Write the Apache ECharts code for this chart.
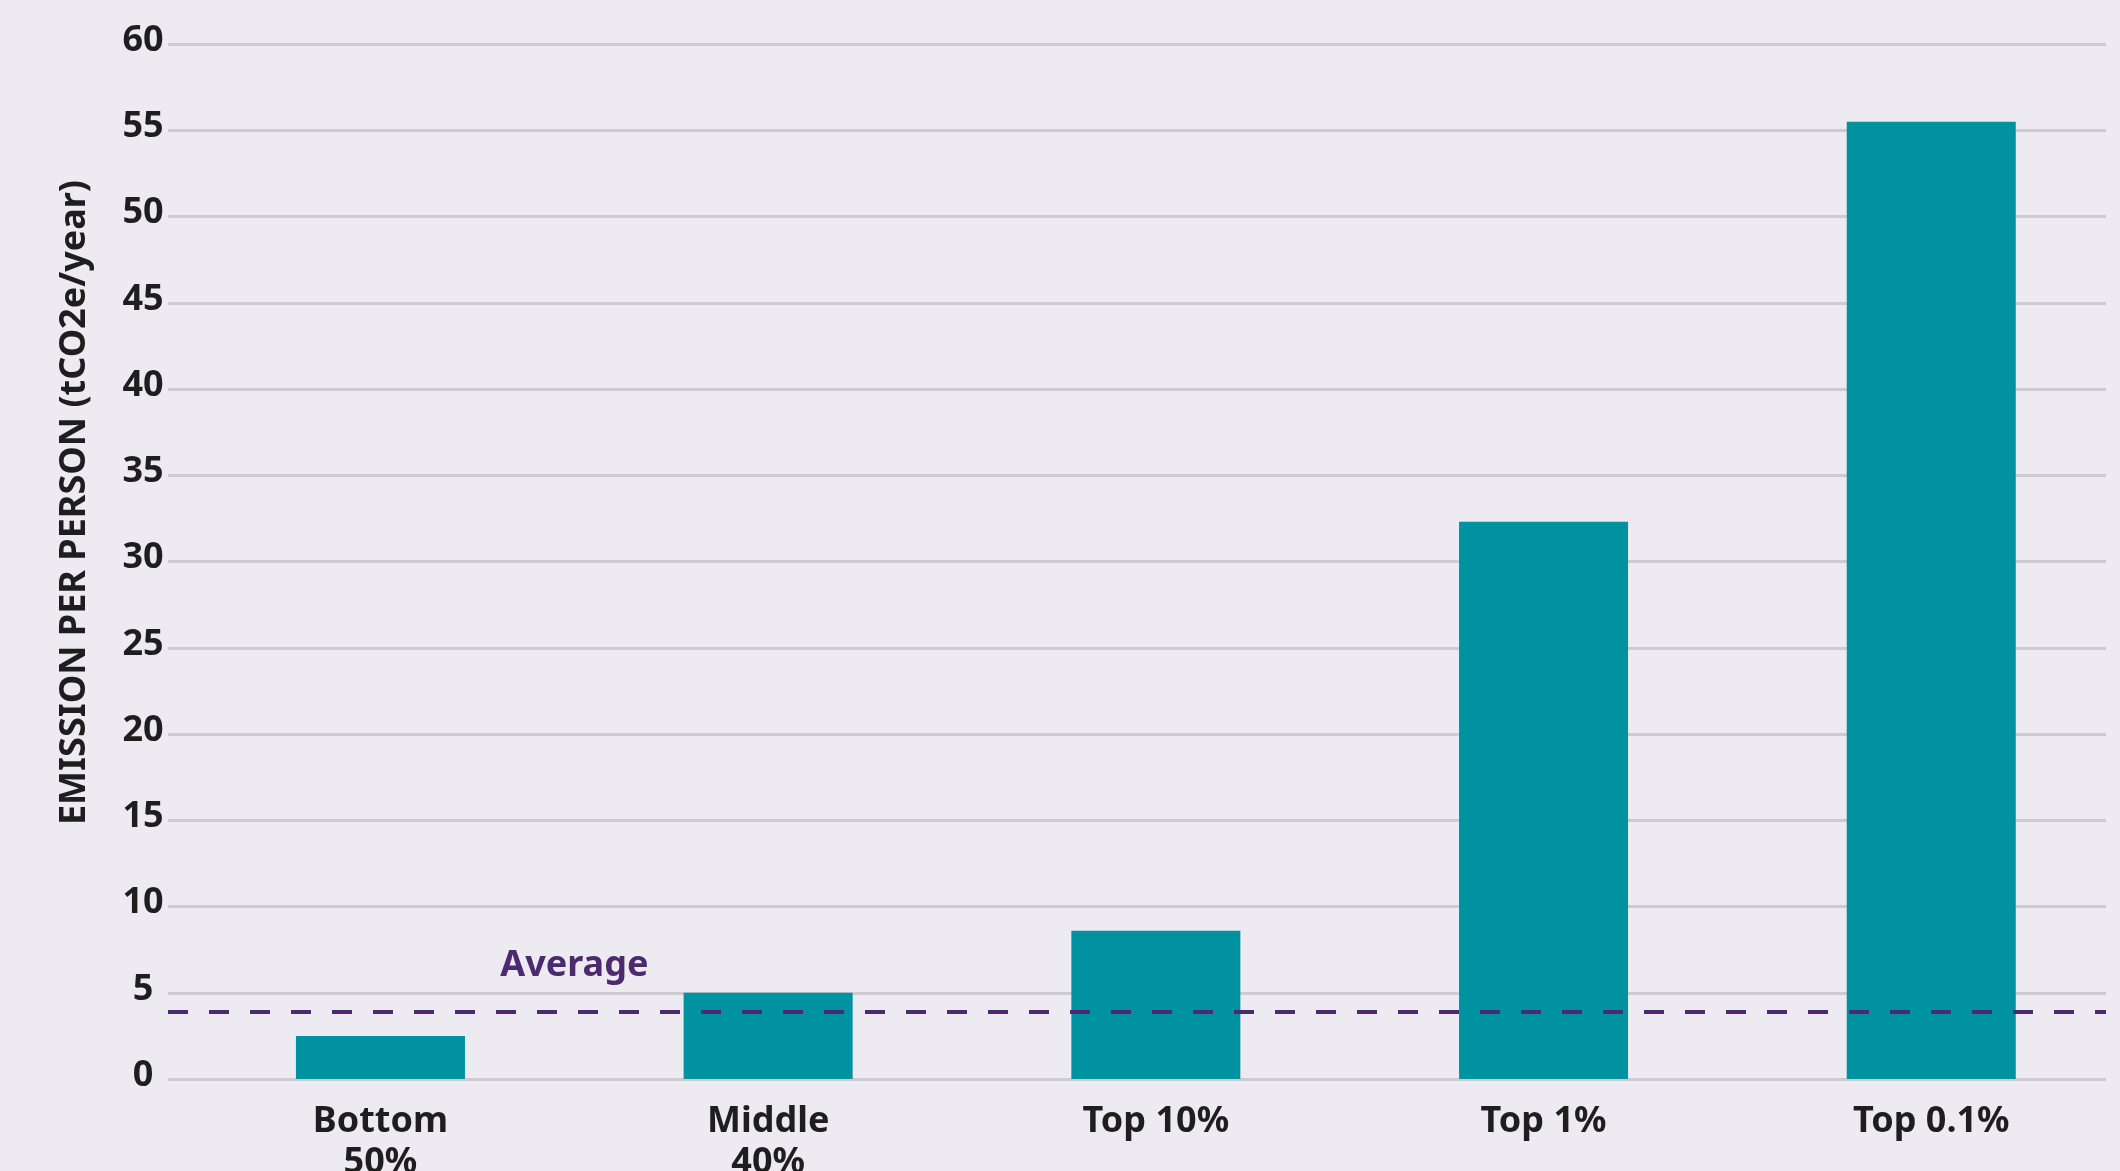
<!DOCTYPE html>
<html>
<head>
<meta charset="utf-8">
<script src="https://cdn.jsdelivr.net/npm/echarts@6/dist/echarts.min.js"></script>
<style>
  html, body { margin: 0; padding: 0; background: #edeaf1; }
  #chart { width: 2120px; height: 1171px; }
</style>
</head>
<body>
<div id="chart"></div>
<script>
const categories = ['Bottom\n50%', 'Middle\n40%', 'Top 10%', 'Top 1%', 'Top 0.1%'];
const emissions = [2.5, 5.0, 8.6, 32.3, 55.5];
const averageValue = 3.9;
const averageLabel = 'Average';
const yAxisTitle = 'EMISSION PER PERSON (tCO2e/year)';
const yMin = 0, yMax = 60, yStep = 5;

const FONT = '"Noto Sans", "DejaVu Sans", sans-serif';
const TEXT = '#1e1e1e';
const TEAL = '#0092a0';
const PURPLE = '#4b2a6f';
const GRID = '#cdcbd0';

const chart = echarts.init(document.getElementById('chart'), null, { renderer: 'canvas' });

const option = {
  backgroundColor: '#edeaf1',
  animation: false,
  grid: [
    { left: 168, right: 14, top: 44, bottom: 92, outerBoundsMode: 'none', containLabel: false },
    { left: 186.6, width: 1938.5, top: 44, bottom: 92, outerBoundsMode: 'none', containLabel: false }
  ],
  xAxis: [
    { gridIndex: 0, type: 'category', data: categories, show: false },
    {
      gridIndex: 1, type: 'category', data: categories,
      axisLine: { show: false }, axisTick: { show: false },
      axisLabel: {
        fontFamily: FONT, fontSize: 36, fontWeight: 'bold', color: TEXT,
        lineHeight: 41, margin: 22, interval: 0
      }
    }
  ],
  yAxis: [
    {
      gridIndex: 0, type: 'value', min: yMin, max: yMax, interval: yStep,
      axisLine: { show: false }, axisTick: { show: false },
      splitLine: { show: true, lineStyle: { color: GRID, width: 3 } },
      axisLabel: {
        fontFamily: FONT, fontSize: 36, fontWeight: 'bold', color: TEXT,
        align: 'center', verticalAlign: 'bottom', lineHeight: 7, margin: 25
      },
      name: yAxisTitle,
      nameLocation: 'middle',
      nameRotate: 90,
      nameGap: 75,
      nameTextStyle: {
        fontFamily: FONT, fontSize: 36, fontWeight: 'bold', color: TEXT,
        padding: [0, 0, 0, 118]
      }
    },
    {
      gridIndex: 1, type: 'value', min: yMin, max: yMax, interval: yStep,
      show: false, splitLine: { show: false }
    }
  ],
  series: [
    {
      type: 'line', xAxisIndex: 0, yAxisIndex: 0,
      data: categories.map(() => null), showSymbol: false,
      markLine: {
        silent: true, symbol: 'none', label: { show: false },
        lineStyle: { color: PURPLE, width: 4, type: [20, 21] },
        data: [{ yAxis: averageValue }]
      }
    },
    {
      type: 'bar', xAxisIndex: 1, yAxisIndex: 1,
      data: emissions, barWidth: 169,
      itemStyle: { color: TEAL }
    }
  ]
};
chart.setOption(option);

const p0 = chart.convertToPixel({ xAxisIndex: 1, yAxisIndex: 1 }, [0, averageValue]);
const p1 = chart.convertToPixel({ xAxisIndex: 1, yAxisIndex: 1 }, [1, averageValue]);
chart.setOption({
  graphic: [{
    type: 'text',
    x: (p0[0] + p1[0]) / 2,
    y: p0[1] - 28,
    style: {
      text: averageLabel, fill: PURPLE,
      font: 'bold 36px ' + FONT,
      align: 'center', verticalAlign: 'bottom'
    }
  }]
});
</script>
</body>
</html>
